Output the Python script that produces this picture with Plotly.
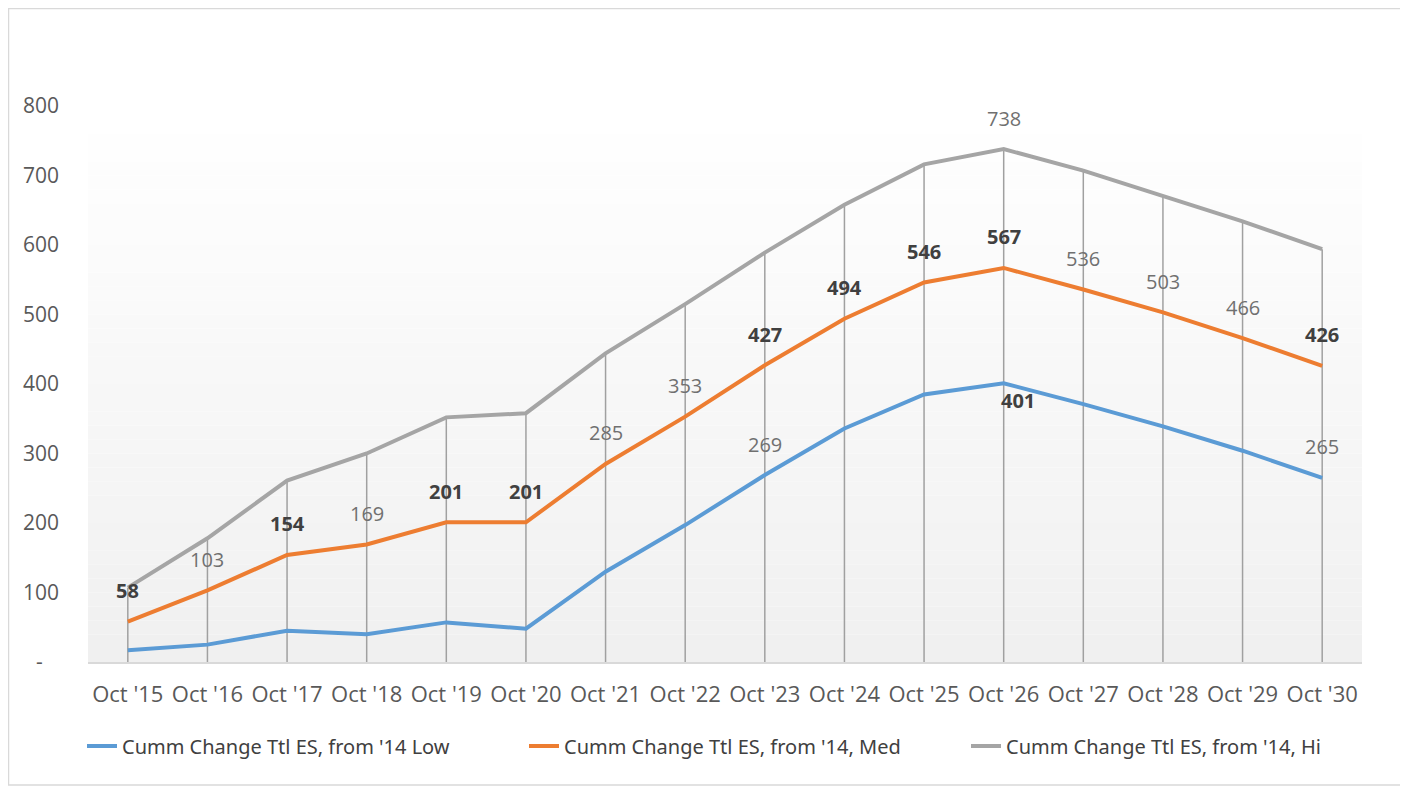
import plotly.graph_objects as go

# Category labels
years = ["Oct '15", "Oct '16", "Oct '17", "Oct '18", "Oct '19", "Oct '20", "Oct '21", "Oct '22",
         "Oct '23", "Oct '24", "Oct '25", "Oct '26", "Oct '27", "Oct '28", "Oct '29", "Oct '30"]

# Series values
low = [17, 25, 45, 40, 57, 48, 130, 197, 269, 336, 385, 401, 371, 339, 304, 265]
med = [58, 103, 154, 169, 201, 201, 285, 353, 427, 494, 546, 567, 536, 503, 466, 426]
hi = [107, 178, 261, 300, 352, 358, 444, 515, 589, 658, 716, 738, 707, 671, 634, 594]

names = ["Cumm Change Ttl ES, from '14 Low",
         "Cumm Change Ttl ES, from '14, Med",
         "Cumm Change Ttl ES, from '14, Hi"]
colors = ["#5b9bd5", "#ed7d31", "#a5a5a5"]

# Data labels shown on the chart: which med labels are bold, plus extra low/hi labels
med_bold = [0, 2, 4, 5, 8, 9, 10, 11, 15]
low_labels = {8: False, 11: True, 15: False}
hi_labels = {11: False}

y_ticks = [0, 100, 200, 300, 400, 500, 600, 700, 800]
y_ticktext = ["-\u00a0\u00a0\u00a0"] + [str(v) for v in y_ticks[1:]]

fig = go.Figure()

# Drop lines from the high series down to the axis
drop_x, drop_y = [], []
for cat, v in zip(years, hi):
    drop_x += [cat, cat, None]
    drop_y += [0, v, None]
fig.add_trace(go.Scatter(x=drop_x, y=drop_y, mode='lines',
                         line=dict(color='#a0a0a0', width=1.5),
                         showlegend=False, hoverinfo='skip'))

for name, vals, col in zip(names, [low, med, hi], colors):
    fig.add_trace(go.Scatter(x=years, y=vals, mode='lines', name=name,
                             line=dict(color=col, width=4)))

# Data labels
def add_label(i, v, bold, yshift=31, xshift=0):
    txt = f"<b>{v}</b>" if bold else str(v)
    fig.add_annotation(x=years[i], y=v, text=txt, showarrow=False,
                       yshift=yshift, xshift=xshift,
                       font=dict(size=20, color='#404040' if bold else '#707070',
                                 family='Open Sans'))

for i, v in enumerate(med):
    add_label(i, v, i in med_bold)
for i, bold in low_labels.items():
    if i == 11:
        add_label(i, low[i], bold, yshift=-17, xshift=14)
    else:
        add_label(i, low[i], bold)
for i, bold in hi_labels.items():
    add_label(i, hi[i], bold)

# Gradient plot background (white at top to light grey at bottom)
bands = 40
for k in range(bands):
    t = k / (bands - 1)
    c = int(round(240 + (255 - 240) * t))
    fig.add_shape(type='rect', xref='paper', yref='paper',
                  x0=0, x1=1, y0=k / bands, y1=(k + 1) / bands,
                  fillcolor=f'rgb({c},{c},{c})', line=dict(width=0), layer='below')

# Chart area border
fig.add_shape(type='rect', xref='paper', yref='paper',
              x0=-0.0624, x1=1.033, y0=-0.2212, y1=1.1754,
              line=dict(color='#d9d9d9', width=1.5), fillcolor='rgba(0,0,0,0)')

# page body has an 8px margin, so the figure is drawn 8px smaller
fig.update_layout(
    width=1400, height=781,
    margin=dict(l=80, r=46, t=98, b=127),
    paper_bgcolor='white',
    plot_bgcolor='rgba(0,0,0,0)',
    font=dict(family='Open Sans', color='#595959', size=18),
    showlegend=True,
    legend=dict(orientation='h', x=-0.001, xanchor='left', y=-0.151, yanchor='middle',
                font=dict(family='Noto Sans', size=20, color='#404040'),
                entrywidth=397, entrywidthmode='pixels'),
    hovermode=False,
)

fig.update_xaxes(showgrid=False, showline=True, linecolor='#d9d9d9', linewidth=1.5,
                 ticks='', ticklabelstandoff=12, tickfont=dict(size=22, color='#595959'),
                 range=[-0.5, 15.5], zeroline=False)
fig.update_yaxes(showgrid=False, showline=False, zeroline=False, range=[0, 800],
                 tickvals=y_ticks, ticktext=y_ticktext, ticks='', ticklabelstandoff=28,
                 tickfont=dict(size=21, color='#595959'))

fig.write_html("out.html")
